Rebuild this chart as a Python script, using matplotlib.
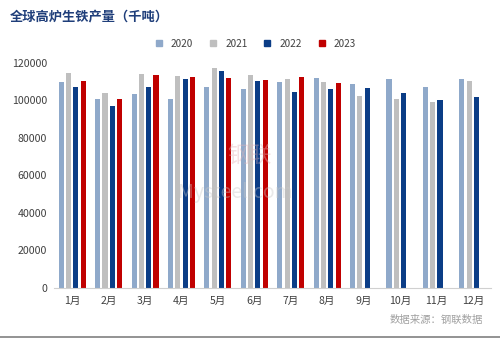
import numpy as np
import matplotlib.pyplot as plt
from matplotlib.lines import Line2D

plt.rcParams['font.family'] = ['Noto Sans CJK SC', 'DejaVu Sans']

months = ["1月", "2月", "3月", "4月", "5月", "6月",
          "7月", "8月", "9月", "10月", "11月", "12月"]
years = ["2020", "2021", "2022", "2023"]

y2020 = [110000, 100600, 103600, 100600, 107000, 106300,
         110000, 112200, 108800, 111300, 107400, 111600]
y2021 = [114700, 104200, 114000, 112900, 117300, 113600,
         111300, 110000, 102600, 101000, 99200, 110400]
y2022 = [107000, 97000, 107400, 111600, 115900, 110400,
         104700, 106100, 106700, 104000, 100400, 102000]
y2023 = [110200, 100600, 113600, 112300, 112200, 110900,
         112500, 109300]

series = [y2020, y2021, y2022, y2023]
colors = ["#8FA9CA", "#BFBFBF", "#0B3D86", "#C00000"]

fig = plt.figure(figsize=(5, 3.38), dpi=100)
ax = fig.add_axes([0.108, 0.148, 0.874, 0.666])

x = np.arange(len(months))
width = 0.14
step = 0.2
for i, (vals, c) in enumerate(zip(series, colors)):
    pos = x[:len(vals)] + (i - 1.5) * step
    ax.bar(pos, vals, width=width, color=c, label=years[i])

ax.set_xlim(-0.5, len(months) - 0.5)
ax.set_ylim(0, 120000)
ax.set_yticks(np.arange(0, 120001, 20000))
ax.set_xticks(x)
ax.set_xticklabels(months)
ax.tick_params(axis='both', length=0, labelsize=7.6, colors="#404040")
ax.tick_params(axis='x', pad=6)
ax.tick_params(axis='y', pad=5)
for s in ["top", "right", "left"]:
    ax.spines[s].set_visible(False)
ax.spines["bottom"].set_color("#D0D0D0")

# watermark
fig.text(0.47, 0.43, "Mysteel.com", fontsize=14, color="#C8C8C8",
         alpha=0.4, ha="center", va="center")
fig.text(0.50, 0.54, "钢联", fontsize=16, color="#E3B3B8",
         alpha=0.4, ha="center", va="center")

handles = [Line2D([], [], marker="s", linestyle="none", markersize=5,
                  markerfacecolor=c, markeredgecolor=c) for c in colors]
fig.legend(handles, years, loc="center", bbox_to_anchor=(0.505, 0.87),
           ncol=4, frameon=False, fontsize=7.2, handletextpad=0.2,
           columnspacing=1.0, labelcolor="#404040")

fig.text(0.02, 0.95, "全球高炉生铁产量（千吨）", fontsize=9.5,
         fontweight="bold", color="#1F3E7A", ha="left", va="center")
fig.text(0.966, 0.055, "数据来源：钢联数据", fontsize=7.5,
         color="#A0A0A0", ha="right", va="center")

fig.add_artist(Line2D([0, 1], [0.004, 0.004], color="#808080", lw=1.2,
                      transform=fig.transFigure))

fig.savefig("out.png", dpi=100)
